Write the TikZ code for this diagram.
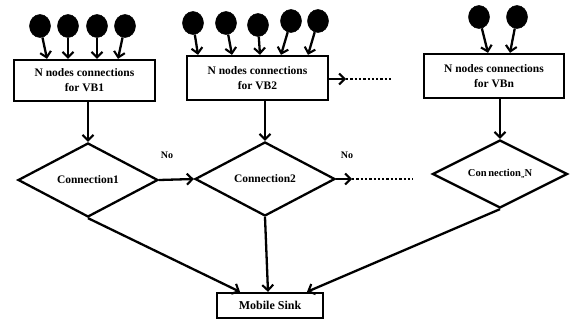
\documentclass[tikz,border=0pt]{standalone}
\usepackage{fontspec}
\setmainfont{Liberation Serif}
\usetikzlibrary{shapes.geometric,arrows.meta,calc}
\begin{document}
\begin{tikzpicture}[x=1pt,y=-1pt,
  every path/.style={line width=2.3pt},
  arr/.style={line width=2.3pt,-{Straight Barb[length=5.5pt,width=11pt,line width=2.1pt]}},
  dot/.style={ellipse,fill=black,draw=black,line width=0.5pt,minimum width=21pt,minimum height=23pt,inner sep=0pt},
  vbbox/.style={draw,rectangle,line width=2.3pt,inner sep=0pt,align=center,font=\fontsize{11.5}{15}\selectfont\bfseries},
  decbox/.style={draw,diamond,aspect=2,inner sep=0pt,line width=2.3pt,font=\fontsize{11.5}{14}\selectfont\bfseries},
  nolab/.style={font=\fontsize{10}{12}\selectfont\bfseries},
  dots/.style={dotted,line width=1.4pt}]
\useasboundingbox (0,0) rectangle (570,320);

% boxes
\node[vbbox,minimum width=141pt,minimum height=41pt] (b1) at (84.5,80.5) {N nodes connections\\for VB1};
\node[vbbox,minimum width=141pt,minimum height=44pt] (b2) at (257.5,78) {N nodes connections\\for VB2};
\node[vbbox,minimum width=140pt,minimum height=44pt] (b3) at (494,76) {N nodes connections\\for VBn};

% dots VB1
\node[dot] (c11) at (40,26) {};
\node[dot] (c12) at (68,26) {};
\node[dot] (c13) at (97,26) {};
\node[dot] (c14) at (125,26) {};
% dots VB2
\node[dot] (c21) at (193,23) {};
\node[dot] (c22) at (226,23) {};
\node[dot] (c23) at (258,25) {};
\node[dot] (c24) at (291,21) {};
\node[dot] (c25) at (318,21) {};
% dots VBn
\node[dot] (c31) at (479,17) {};
\node[dot] (c32) at (517,17) {};

\draw[arr] (c11) -- ([xshift=-37.5pt]b1.north);
\draw[arr] (c12) -- ([xshift=-16.5pt]b1.north);
\draw[arr] (c13) -- ([xshift=12.5pt]b1.north);
\draw[arr] (c14) -- ([xshift=33.5pt]b1.north);

\draw[arr] (c21) -- ([xshift=-59.5pt]b2.north);
\draw[arr] (c22) -- ([xshift=-25.5pt]b2.north);
\draw[arr] (c23) -- ([xshift=2.5pt]b2.north);
\draw[arr] (c24) -- ([xshift=23.5pt]b2.north);
\draw[arr] (c25) -- ([xshift=50.5pt]b2.north);

\draw[arr] (c31) -- ([xshift=-6pt]b3.north);
\draw[arr] (c32) -- ([xshift=16pt]b3.north);

% decisions
\node[decbox,minimum width=140pt,minimum height=74pt] (d1) at (88,180) {Connection1};
\node[decbox,minimum width=140pt,minimum height=74pt] (d2) at (265,179) {Connection2};
\node[decbox,minimum width=135pt,minimum height=68pt,font=\fontsize{10.5}{12}\selectfont\bfseries] (d3) at (500,174) {Con\,nection\raisebox{-1.5pt}{\fontsize{7}{7}\selectfont,,}N};

\draw[arr] (d1.north |- b1.south) -- (d1.north);
\draw[arr] (d2.north |- b2.south) -- (d2.north);
\draw[arr] (d3.north |- b3.south) -- (d3.north);

% No branches
\draw[arr] (d1.east) -- (d2.west);
\node[nolab] (no1) at (167,155) {No};
\coordinate (t2) at (352,179);
\coordinate (e2) at (413,179);
\draw[arr] (d2.east) -- (t2);
\draw[dots] (t2) -- (e2);
\node[nolab] (no2) at (347,155) {No};

\coordinate (t1) at (346,79);
\coordinate (e1) at (393,79);
\draw[arr] (b2.east |- t1) -- (t1);
\draw[dots] (t1) -- (e1);

% sink
\node[vbbox,minimum width=106pt,minimum height=25pt,font=\fontsize{12}{14}\selectfont\bfseries] (sink) at (270,305.5) {Mobile Sink};
\draw[arr] (d1.south) -- ([xshift=-30pt]sink.north);
\draw[arr] (d2.south) -- ([xshift=-2pt]sink.north);
\draw[arr] (d3.south) -- ([xshift=37pt]sink.north);
\end{tikzpicture}
\end{document}
